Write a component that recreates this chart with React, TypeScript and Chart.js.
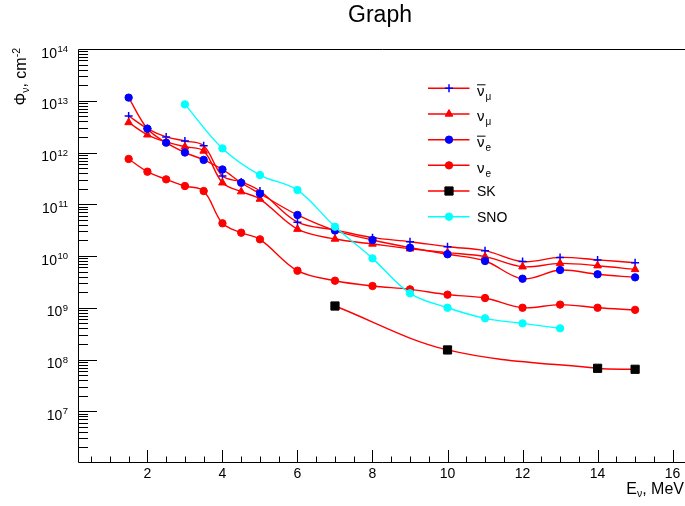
import React, { useEffect, useRef } from 'react';
import { Chart, registerables } from 'chart.js';

Chart.register(...registerables);

const FONT = "'Liberation Sans', Arial, Helvetica, sans-serif";

// ---- data ----
const energies = [1.5, 2, 2.5, 3, 3.5, 4, 4.5, 5, 6, 7, 8, 9, 10, 11, 12, 13, 14, 15];
const antiNuMuFlux = [5.1e12, 2.9e12, 2.0e12, 1.67e12, 1.35e12, 3.5e11, 2.7e11, 1.8e11, 4.5e10, 3.2e10, 2.26e10, 1.89e10, 1.51e10, 1.27e10, 7.8e9, 9.4e9, 8.4e9, 7.4e9];
const nuMuFlux = [3.8e12, 2.2e12, 1.6e12, 1.29e12, 1.07e12, 2.6e11, 1.75e11, 1.26e11, 3.3e10, 2.13e10, 1.71e10, 1.38e10, 1.16e10, 9.7e9, 6.2e9, 7.2e9, 6.5e9, 5.5e9];
const antiNuEFlux = [1.15e13, 2.88e12, 1.55e12, 1.0e12, 7.2e11, 4.7e11, 2.6e11, 1.6e11, 6.2e10, 3.1e10, 2.04e10, 1.45e10, 1.08e10, 8.0e9, 3.64e9, 5.36e9, 4.43e9, 3.87e9];
const nuEFlux = [7.5e11, 4.26e11, 3.03e11, 2.25e11, 1.8e11, 4.28e10, 2.82e10, 2.1e10, 5.2e9, 3.33e9, 2.63e9, 2.27e9, 1.79e9, 1.54e9, 1.0e9, 1.15e9, 1.0e9, 9.1e8];
const skEnergies = [7, 10, 14, 15];
const skFlux = [1.08e9, 1.53e8, 6.76e7, 6.47e7];
const snoEnergies = [3, 4, 5, 6, 7, 8, 9, 10, 11, 12, 13];
const snoFlux = [8.5e12, 1.2e12, 3.67e11, 1.88e11, 3.68e10, 9.0e9, 1.9e9, 1.0e9, 6.25e8, 5.0e8, 4.0e8];

const xTickValues = [2, 4, 6, 8, 10, 12, 14, 16];
const yDecadeExponents = [7, 8, 9, 10, 11, 12, 13, 14];

const legendBase = ['ν', 'ν', 'ν', 'ν', 'SK', 'SNO'];
const legendBar = [true, false, true, false, false, false];
const legendSub = ['μ', 'μ', 'e', 'e', '', ''];
const datasetLabels = ['anti-ν_μ', 'ν_μ', 'anti-ν_e', 'ν_e', 'SK', 'SNO'];

const titleText = 'Graph';
const xTitle = ['E', 'ν', ', MeV'];
const yTitle = ['Φ', 'ν', ', cm', '-2'];

// ---- styles ----
const styles = [
  { line: '#ff0000', marker: '#0000ff', point: 'cross', r: 4 },
  { line: '#ff0000', marker: '#ff0000', point: 'triangle', r: 4.4 },
  { line: '#ff0000', marker: '#0000ff', point: 'circle', r: 3.7 },
  { line: '#ff0000', marker: '#ff0000', point: 'circle', r: 3.7 },
  { line: '#ff0000', marker: '#000000', point: 'rect', r: 5.8 },
  { line: '#00ffff', marker: '#00ffff', point: 'circle', r: 3.7 },
];

const seriesX = [energies, energies, energies, energies, skEnergies, snoEnergies];
const seriesY = [antiNuMuFlux, nuMuFlux, antiNuEFlux, nuEFlux, skFlux, snoFlux];

function drawMarker(ctx: CanvasRenderingContext2D, kind: string, x: number, y: number, r: number, color: string) {
  ctx.save();
  ctx.fillStyle = color;
  ctx.strokeStyle = color;
  ctx.lineWidth = kind === 'cross' ? 1.5 : 1;
  ctx.beginPath();
  if (kind === 'cross') {
    ctx.moveTo(x - r, y); ctx.lineTo(x + r, y);
    ctx.moveTo(x, y - r); ctx.lineTo(x, y + r);
    ctx.stroke();
  } else if (kind === 'triangle') {
    let rad = 0;
    ctx.moveTo(x + Math.sin(rad) * r, y - Math.cos(rad) * r);
    rad += (2 * Math.PI) / 3;
    ctx.lineTo(x + Math.sin(rad) * r, y - Math.cos(rad) * r);
    rad += (2 * Math.PI) / 3;
    ctx.lineTo(x + Math.sin(rad) * r, y - Math.cos(rad) * r);
    ctx.closePath();
    ctx.fill(); ctx.stroke();
  } else if (kind === 'rect') {
    const s = r * Math.SQRT1_2;
    ctx.rect(x - s, y - s, 2 * s, 2 * s);
    ctx.fill(); ctx.stroke();
  } else {
    ctx.arc(x, y, r, 0, Math.PI * 2);
    ctx.fill(); ctx.stroke();
  }
  ctx.restore();
}

function drawPieces(ctx: CanvasRenderingContext2D, pieces: { t: string; size: number; dy: number }[], xStart: number, y: number) {
  let x = xStart;
  for (const p of pieces) {
    ctx.font = `${p.size}px ${FONT}`;
    ctx.fillText(p.t, x, y + p.dy);
    x += ctx.measureText(p.t).width;
  }
}

function piecesWidth(ctx: CanvasRenderingContext2D, pieces: { t: string; size: number; dy: number }[]) {
  let w = 0;
  for (const p of pieces) {
    ctx.font = `${p.size}px ${FONT}`;
    w += ctx.measureText(p.t).width;
  }
  return w;
}

const decorPlugin = {
  id: 'rootDecor',
  afterDraw(chart: any) {
    const { ctx, chartArea: a, scales } = chart;
    const xs = scales.x;
    const ys = scales.y;
    ctx.save();
    ctx.strokeStyle = '#000';
    ctx.fillStyle = '#000';
    ctx.lineWidth = 1;

    // frame (left, top, bottom)
    ctx.beginPath();
    ctx.moveTo(a.right + 2, a.top + 0.5);
    ctx.lineTo(a.left + 0.5, a.top + 0.5);
    ctx.lineTo(a.left + 0.5, a.bottom - 0.5);
    ctx.lineTo(a.right + 2, a.bottom - 0.5);
    ctx.stroke();

    // y ticks (inside)
    ctx.beginPath();
    for (let e = 6; e <= 13; e++) {
      for (let m = 1; m <= 9; m++) {
        const v = m * Math.pow(10, e);
        if (v <= ys.min * 1.0001) continue;
        const py = Math.round(ys.getPixelForValue(v)) + 0.5;
        const len = m === 1 ? 19 : 10;
        ctx.moveTo(a.left, py);
        ctx.lineTo(a.left + len, py);
      }
    }
    // x ticks (inside)
    for (let k = 1; k * 0.5 <= xs.max; k++) {
      const v = k * 0.5;
      const px = Math.round(xs.getPixelForValue(v)) + 0.5;
      const len = v % 2 === 0 ? 13 : 6.5;
      ctx.moveTo(px, a.bottom);
      ctx.lineTo(px, a.bottom - len);
    }
    ctx.stroke();

    // y labels 10^n
    ctx.textAlign = 'left';
    ctx.textBaseline = 'alphabetic';
    for (const e of yDecadeExponents) {
      const py = ys.getPixelForValue(Math.pow(10, e));
      ctx.font = `14px ${FONT}`;
      const wBase = ctx.measureText('10').width;
      ctx.font = `9.5px ${FONT}`;
      const wSup = ctx.measureText(String(e)).width;
      const right = 68;
      const x0 = right - wSup - wBase - 0.5;
      ctx.font = `14px ${FONT}`;
      ctx.fillText('10', x0, py + 8.5);
      ctx.font = `9.5px ${FONT}`;
      ctx.fillText(String(e), x0 + wBase + 0.5, py + 3);
    }

    // title
    ctx.font = `23px ${FONT}`;
    ctx.textAlign = 'center';
    ctx.fillText(titleText, 380, 22);
    ctx.textAlign = 'left';

    // x axis title
    const xp = [
      { t: xTitle[0], size: 16, dy: 0 },
      { t: xTitle[1], size: 10.5, dy: 3 },
      { t: xTitle[2], size: 16, dy: 0 },
    ];
    const xw = piecesWidth(ctx, xp);
    drawPieces(ctx, xp, 684 - xw, 494);

    // y axis title (rotated)
    const yp = [
      { t: yTitle[0], size: 16, dy: 0 },
      { t: yTitle[1], size: 10.5, dy: 3 },
      { t: yTitle[2], size: 16, dy: 0 },
      { t: yTitle[3], size: 10.5, dy: -6.5 },
    ];
    const yw = piecesWidth(ctx, yp);
    ctx.save();
    ctx.translate(26, 48);
    ctx.rotate(-Math.PI / 2);
    drawPieces(ctx, yp, -yw, 0);
    ctx.restore();

    // legend
    for (let i = 0; i < styles.length; i++) {
      const st = styles[i];
      const ry = 88.3 + i * 25.68;
      ctx.save();
      ctx.strokeStyle = st.line;
      ctx.lineWidth = 1.5;
      ctx.beginPath();
      ctx.moveTo(428, ry);
      ctx.lineTo(469.5, ry);
      ctx.stroke();
      ctx.restore();
      drawMarker(ctx, st.point, 449, ry, st.r, st.marker);
      ctx.fillStyle = '#000';
      if (legendBase[i] === 'ν') {
        ctx.font = `15px ${FONT}`;
        const lx = 477;
        ctx.fillText('ν', lx, ry + 7.5);
        const wn = ctx.measureText('ν').width;
        if (legendBar[i]) {
          ctx.save();
          ctx.strokeStyle = '#000';
          ctx.lineWidth = 1;
          ctx.beginPath();
          ctx.moveTo(lx, ry - 3.5);
          ctx.lineTo(lx + wn + 1, ry - 3.5);
          ctx.stroke();
          ctx.restore();
        }
        ctx.font = `10px ${FONT}`;
        ctx.fillText(legendSub[i], lx + wn + 1, ry + 11.5);
      } else {
        ctx.font = `14px ${FONT}`;
        ctx.fillText(legendBase[i], 477, ry + 5);
      }
    }
    ctx.restore();
  },
};

export default function App() {
  const ref = useRef<HTMLCanvasElement>(null);
  useEffect(() => {
    document.body.style.margin = '0';
    const datasets = styles.map((st, i) => ({
      label: datasetLabels[i],
      data: seriesX[i].map((x, j) => ({ x, y: seriesY[i][j] })),
      borderColor: st.line,
      backgroundColor: st.marker,
      borderWidth: 1.4,
      tension: 0.35,
      pointStyle: st.point,
      pointRadius: st.r,
      pointBackgroundColor: st.marker,
      pointBorderColor: st.marker,
      pointBorderWidth: st.point === 'cross' ? 1.5 : 1,
      order: styles.length - 1 - i,
      fill: false,
    }));
    const chart = new Chart(ref.current as HTMLCanvasElement, {
      type: 'line',
      data: { datasets },
      options: {
        animation: false,
        responsive: false,
        devicePixelRatio: 1,
        layout: { autoPadding: false, padding: { top: 49, left: 0, right: 0, bottom: 0 } },
        plugins: {
          legend: { display: false },
          tooltip: { enabled: false },
          title: { display: false },
        },
        scales: {
          x: {
            type: 'linear',
            min: 0.15,
            max: 16.33,
            grid: { display: false, drawTicks: false },
            border: { display: false },
            ticks: {
              font: { family: FONT, size: 14 },
              color: '#000',
              padding: 3,
              maxRotation: 0,
              autoSkip: false,
            },
            afterBuildTicks: (s: any) => {
              s.ticks = xTickValues.map((v) => ({ value: v }));
            },
            afterFit: (s: any) => {
              s.height = 43;
              s.paddingRight = 0;
              s.paddingLeft = 0;
            },
          },
          y: {
            type: 'logarithmic',
            min: 1e6,
            max: 1e14,
            grid: { display: false, drawTicks: false },
            border: { display: false },
            ticks: { display: false },
            afterFit: (s: any) => {
              s.width = 78;
              s.paddingTop = 0;
              s.paddingBottom = 0;
            },
          },
        },
      } as any,
      plugins: [decorPlugin],
    } as any);
    return () => chart.destroy();
  }, []);
  return (
    <div style={{ position: 'absolute', left: 0, top: 0, width: 685, height: 506, background: '#fff' }}>
      <canvas ref={ref} width={685} height={506} style={{ display: 'block', width: 685, height: 506 }} />
    </div>
  );
}
